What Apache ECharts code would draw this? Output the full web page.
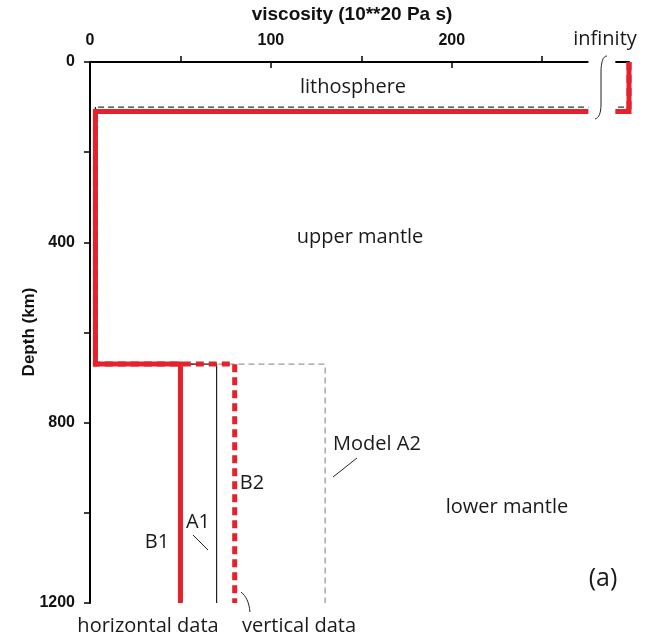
<!DOCTYPE html>
<html><head><meta charset="utf-8">
<script src="https://cdn.jsdelivr.net/npm/echarts@6/dist/echarts.min.js"></script>
<style>html,body{margin:0;padding:0;background:#fff}#c{width:648px;height:637px}</style>
</head><body><div id="c"></div>
<script>
// ---- data ----
const viscosityTickLabels = [0, 100, 200];
const viscosityMinorTicks = [50, 150, 250];
const depthTickLabels = [0, 400, 800, 1200];
const modelNames = ['A2', 'A1', 'B2', 'B1'];
const lithosphereBase = [100, 100, 110, 110];       // km
const lithosphereVisc = [Infinity, Infinity, Infinity, Infinity];
const upperMantleVisc = [3, 3, 3, 3];               // 10^20 Pa s
const lowerMantleVisc = [130, 70, 80, 50];          // 10^20 Pa s
const transitionDepth = 670;
const maxDepth = 1200;

// axis layout (break to "infinity")
const AXIS_END = 275, BREAK_RESUME = 291, INF_POS = 298;

function modelPath(i) {
  const lv = isFinite(lithosphereVisc[i]) ? lithosphereVisc[i] : INF_POS;
  return [[lv, 0], [lv, lithosphereBase[i]],
    [upperMantleVisc[i], lithosphereBase[i]], [upperMantleVisc[i], transitionDepth],
    [lowerMantleVisc[i], transitionDepth], [lowerMantleVisc[i], maxDepth]];
}
const RED = '#e3222b';
const styles = {
  A2: {color: '#999', width: 1.3, type: [6, 4]},
  A1: {color: '#222', width: 1.2, type: 'solid'},
  B2: {color: RED, width: 5, type: [8, 5]},
  B1: {color: RED, width: 5, type: 'solid'}
};

const chart = echarts.init(document.getElementById('c'), null, {renderer: 'canvas'});
const FONT = 'Liberation Sans';
const AFONT = 'Open Sans';

const series = [];
modelNames.forEach((n, i) => {
  const path = modelPath(i);
  let data = path, extra = null;
  if (n === 'A2') { data = path.slice(2); extra = path.slice(0, 3); }
  if (n === 'A1') { data = path.slice(2); }
  series.push({
    name: n, type: 'line', data: data, clip: false,
    symbol: 'none', silent: true, animation: false, z: 2 + i,
    lineStyle: Object.assign({cap: 'butt', join: 'miter'}, styles[n])
  });
  if (extra) series.push({
    name: n + ' lithosphere', type: 'line', data: extra, clip: false,
    symbol: 'none', silent: true, animation: false, z: 2 + i,
    lineStyle: {cap: 'butt', join: 'miter', color: '#333', width: 1.3, type: [6, 4]}
  });
});

chart.setOption({
  animation: false,
  grid: {left: 90, right: 19, top: 62, bottom: 34},
  xAxis: [{
    type: 'value', position: 'top', min: 0, max: INF_POS, interval: 100,
    axisLine: {show: true, lineStyle: {color: '#000', width: 2}},
    axisTick: {show: true, inside: true, length: 6, customValues: [100, 200], lineStyle: {color: '#000', width: 1.5}},
    axisLabel: {margin: 13, color: '#111', fontFamily: FONT, fontWeight: 'bold', fontSize: 16,
      customValues: viscosityTickLabels},
    splitLine: {show: false}
  }, {
    type: 'value', position: 'top', min: 0, max: INF_POS,
    axisLine: {show: false},
    axisTick: {show: true, inside: false, length: 6, customValues: viscosityMinorTicks, lineStyle: {color: '#000', width: 1.5}},
    axisLabel: {show: false}, splitLine: {show: false}
  }],
  yAxis: {
    type: 'value', inverse: true, min: 0, max: maxDepth, interval: 200,
    axisLine: {show: true, lineStyle: {color: '#000', width: 2}},
    axisTick: {show: true, inside: false, length: 6, lineStyle: {color: '#000', width: 1.5}},
    axisLabel: {margin: 15, color: '#111', fontFamily: FONT, fontWeight: 'bold', fontSize: 16,
      formatter: v => depthTickLabels.includes(v) ? String(v) : ''},
    splitLine: {show: false}
  },
  series: series
});

// break mask + annotations
const p0 = chart.convertToPixel({xAxisIndex: 0}, AXIS_END);
const p1 = chart.convertToPixel({xAxisIndex: 0}, BREAK_RESUME);
const yTop = chart.convertToPixel({yAxisIndex: 0}, 0);

function txt(t, x, y, size) {
  return {type: 'text', x: x, y: y, silent: true, z: 100,
    style: {text: t, fill: '#1a1a1a', font: (size || 20) + 'px "' + AFONT + '"', align: 'center', verticalAlign: 'middle'}};
}
function bold(t, x, y, size, rot) {
  return {type: 'text', x: x, y: y, rotation: rot || 0, silent: true, z: 100,
    style: {text: t, fill: '#111', font: 'bold ' + size + 'px "' + FONT + '"', align: 'center', verticalAlign: 'middle'}};
}
function curve(x1, y1, c1x, c1y, c2x, c2y, x2, y2) {
  return {type: 'bezierCurve', z: 100, silent: true,
    shape: {x1: x1, y1: y1, cpx1: c1x, cpy1: c1y, cpx2: c2x, cpy2: c2y, x2: x2, y2: y2},
    style: {stroke: '#222', lineWidth: 1, fill: null}};
}
function seg(x1, y1, x2, y2) {
  return {type: 'line', z: 100, silent: true, shape: {x1: x1, y1: y1, x2: x2, y2: y2}, style: {stroke: '#222', lineWidth: 1}};
}
chart.setOption({
  graphic: [
    {type: 'rect', z: 90, silent: true, shape: {x: p0 + 1, y: yTop - 12, width: p1 - p0 - 2, height: 75}, style: {fill: '#fff'}},
    curve(607, 56, 603, 56, 601, 62, 601, 72),
    seg(601, 72, 601, 104),
    curve(601, 104, 601, 113, 599, 118, 595, 119),
    bold('viscosity (10**20 Pa s)', 352, 15, 19),
    bold('Depth (km)', 29, 332, 17, Math.PI / 2),
    txt('infinity', 605, 39),
    txt('lithosphere', 353, 87),
    txt('upper mantle', 360, 237),
    txt('lower mantle', 507, 507),
    txt('Model A2', 377, 444),
    txt('B2', 252, 483),
    txt('A1', 198, 522),
    txt('B1', 157, 542),
    txt('horizontal data', 148, 626),
    txt('vertical data', 299, 626),
    txt('(a)', 603, 579, 25),
    seg(193, 535, 208, 550),
    seg(357, 458, 333, 477),
    curve(241, 592, 246, 596, 249, 602, 250, 612)
  ]
});
</script>
</body></html>
